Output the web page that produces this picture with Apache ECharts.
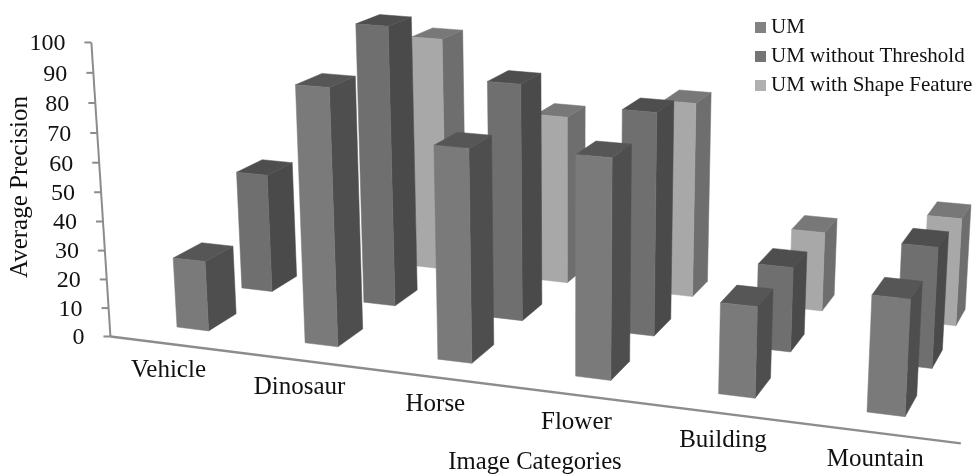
<!DOCTYPE html>
<html>
<head>
<meta charset="utf-8">
<style>
  html, body { margin: 0; padding: 0; background: #fff; }
  #chart { width: 973px; height: 474px; }
</style>
<script src="https://cdn.jsdelivr.net/npm/echarts@6/dist/echarts.min.js"></script>
</head>
<body>
<div id="chart"></div>
<script>
  const categories = ['Vehicle', 'Dinosaur', 'Horse', 'Flower', 'Building', 'Mountain'];
  const tickValues = [0, 10, 20, 30, 40, 50, 60, 70, 80, 90, 100];
  const seriesNames = ['UM', 'UM without Threshold', 'UM with Shape Feature'];

  // corrected for perspective
  const umValues = [24.5, 87.9, 72, 73.2, 30, 37.7];
  const noThresholdValues = [43.2, 100, 83.7, 77.9, 29.4, 41.3];
  // the Vehicle bar of this row is hidden behind Dinosaur
  const shapeValues = [null, 87.3, 62.4, 71.4, 28.9, 38.7];

  const FONT = 'Liberation Serif';
  const TEXT = '#111111';
  const AXIS = '#8c8c8c';
  const palettes = [
    { front: '#7a7a7a', side: '#4e4e4e', top: '#565656', legend: '#828282' },
    { front: '#6f6f6f', side: '#4a4a4a', top: '#4e4e4e', legend: '#757575' },
    { front: '#a8a8a8', side: '#6e6e6e', top: '#787878', legend: '#b0b0b0' },
  ];

  // floor of the 3D box: where the bars of cat 0 / cat 5, row 0 / row 2 stand
  const floor = [[177, 327], [867, 412], [922, 322], [300, 253]];
  const BAR_W = 0.25; // in categories
  const BAR_D = 0.42; // in rows
  const AXIS_D = -0.35;
  const AXIS_C0 = -0.33;
  const AXIS_C1 = 5.67;
  const LEAN_X = 570;
  const LEAN_K = 1.41e-4;
  const BASE_Y = 334;
  const CURVE = 0.00039;

  const dx1 = floor[1][0] - floor[2][0];
  const dx2 = floor[3][0] - floor[2][0];
  const sx = floor[0][0] - floor[1][0] + floor[2][0] - floor[3][0];
  const dy1 = floor[1][1] - floor[2][1];
  const dy2 = floor[3][1] - floor[2][1];
  const sy = floor[0][1] - floor[1][1] + floor[2][1] - floor[3][1];
  const den = dx1 * dy2 - dx2 * dy1;
  const g = (sx * dy2 - dx2 * sy) / den;
  const h = (dx1 * sy - sx * dy1) / den;
  const a = floor[1][0] - floor[0][0] + g * floor[1][0];
  const b = floor[3][0] - floor[0][0] + h * floor[3][0];
  const d = floor[1][1] - floor[0][1] + g * floor[1][1];
  const e = floor[3][1] - floor[0][1] + h * floor[3][1];

  const depthW = (cat, row) => g * (cat / 5) + h * (row / 2) + 1;

  const floorPoint = (cat, row) => {
    const u = cat / 5;
    const v = row / 2;
    const w = depthW(cat, row);
    return [(a * u + b * v + floor[0][0]) / w, (d * u + e * v + floor[0][1]) / w];
  };

  // value goes through the (hidden) y axis of the grid, then gets the perspective
  const project = (api, cat, row, value) => {
    const p = floorPoint(cat, row);
    const axisPx = BASE_Y - api.coord([0, value])[1];
    const height = (axisPx * (1 + CURVE * value) * depthW(AXIS_C0, AXIS_D)) / depthW(cat, row);
    return [p[0] + LEAN_K * (p[0] - LEAN_X) * height, p[1] - height];
  };

  const face = (points, color) => ({
    type: 'polygon',
    shape: { points },
    style: { fill: color, stroke: color, lineWidth: 0.5 },
  });

  const renderBar = (row) => (params, api) => {
    const value = api.value(1);
    if (isNaN(value)) return null;
    const cat = api.value(0);
    const colors = palettes[row];
    const c1 = cat + BAR_W;
    const r1 = row + BAR_D;
    return {
      type: 'group',
      children: [
        face([project(api, c1, row, 0), project(api, c1, r1, 0), project(api, c1, r1, value), project(api, c1, row, value)], colors.side),
        face([project(api, cat, row, value), project(api, c1, row, value), project(api, c1, r1, value), project(api, cat, r1, value)], colors.top),
        face([project(api, cat, row, 0), project(api, c1, row, 0), project(api, c1, row, value), project(api, cat, row, value)], colors.front),
      ],
    };
  };

  const renderAxes = (params, api) => {
    const origin = project(api, AXIS_C0, AXIS_D, 0);
    const top = project(api, AXIS_C0, AXIS_D, 100);
    const end = project(api, AXIS_C1, AXIS_D, 0);
    return {
      type: 'group',
      children: [
        {
          type: 'line',
          shape: { x1: origin[0], y1: origin[1], x2: top[0], y2: top[1] },
          style: { stroke: AXIS, lineWidth: 2 },
        },
        {
          type: 'line',
          shape: { x1: origin[0], y1: origin[1], x2: end[0], y2: end[1] },
          style: { stroke: AXIS, lineWidth: 2.5 },
        },
      ],
    };
  };

  const renderTick = (params, api) => {
    const value = api.value(0);
    const p = project(api, AXIS_C0, AXIS_D, value);
    return {
      type: 'group',
      children: [
        { type: 'line', shape: { x1: p[0] - 7, y1: p[1], x2: p[0], y2: p[1] }, style: { stroke: AXIS, lineWidth: 2 } },
        {
          type: 'text',
          style: {
            text: String(value), x: p[0] - 26, y: p[1] + 1.5, fill: TEXT,
            fontFamily: FONT, fontSize: 24, align: 'right', verticalAlign: 'middle',
          },
        },
      ],
    };
  };

  const renderCategory = (params, api) => {
    const p = floorPoint(api.value(0) + 0.125, AXIS_D);
    return {
      type: 'text',
      style: {
        text: categories[params.dataIndex], x: p[0], y: p[1] + 27, fill: TEXT,
        fontFamily: FONT, fontSize: 25, align: 'center', verticalAlign: 'middle',
      },
    };
  };

  const barSeries = (row, values) => ({
    name: seriesNames[row],
    type: 'custom',
    coordinateSystem: 'cartesian2d',
    clip: false,
    silent: true,
    renderItem: renderBar(row),
    itemStyle: { color: palettes[row].legend },
    encode: { x: 0, y: 1 },
    data: categories.map((name, i) => [i, values[i]]),
  });

  const helperSeries = (renderItem, data) => ({
    type: 'custom',
    coordinateSystem: 'cartesian2d',
    clip: false,
    silent: true,
    renderItem,
    encode: { x: 0, y: 1 },
    data,
  });

  const chart = echarts.init(document.getElementById('chart'), null, { renderer: 'canvas' });

  chart.setOption({
    animation: false,
    backgroundColor: '#fff',
    grid: { left: 111, top: BASE_Y - 283, width: 849, height: 283 },
    xAxis: { type: 'value', min: 0, max: 6, show: false },
    yAxis: { type: 'value', min: 0, max: 100, interval: 10, show: false },
    legend: {
      data: seriesNames,
      orient: 'vertical',
      left: 755,
      top: 17,
      padding: 0,
      icon: 'rect',
      itemWidth: 11,
      itemHeight: 11,
      itemGap: 8,
      selectedMode: false,
      textStyle: { fontFamily: FONT, fontSize: 21, color: TEXT },
    },
    graphic: [
      {
        type: 'text',
        x: 20,
        y: 187,
        rotation: Math.PI / 2,
        style: { text: 'Average Precision', fontFamily: FONT, fontSize: 25, fill: TEXT, align: 'center', verticalAlign: 'middle' },
      },
      {
        type: 'text',
        x: 535,
        y: 463,
        style: { text: 'Image Categories', fontFamily: FONT, fontSize: 24.7, fill: TEXT, align: 'center', verticalAlign: 'middle' },
      },
    ],
    series: [
      helperSeries(renderAxes, [[0, 0]]),
      helperSeries(renderTick, tickValues.map((v) => [v])),
      helperSeries(renderCategory, categories.map((name, i) => [i])),
      // back row first so the nearer bars paint over it
      barSeries(2, shapeValues),
      barSeries(1, noThresholdValues),
      barSeries(0, umValues),
    ],
  });

  window.addEventListener('resize', () => chart.resize());
</script>
</body>
</html>
